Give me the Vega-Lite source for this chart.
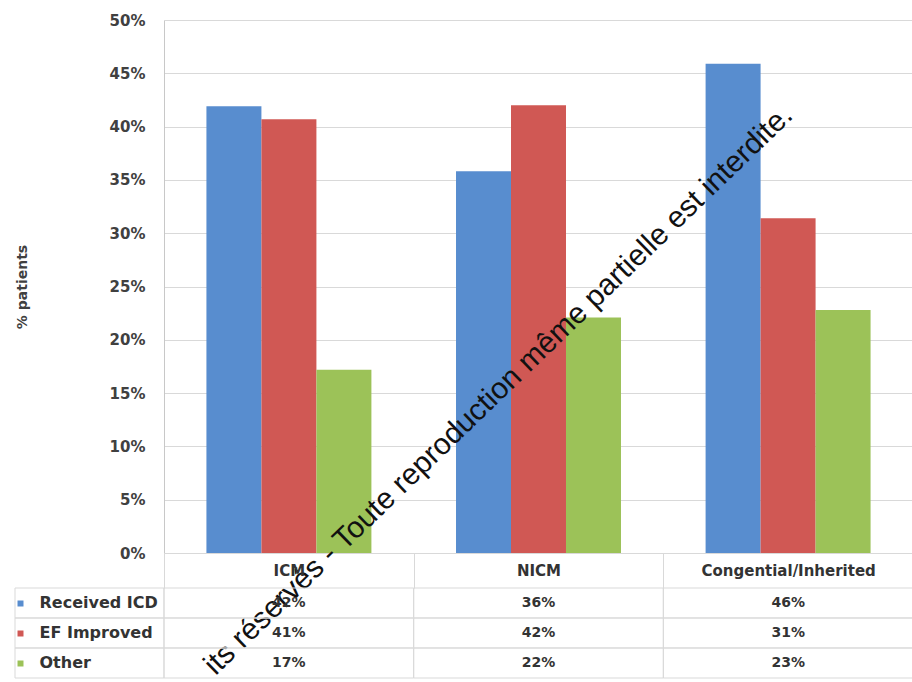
{
  "$schema": "https://vega.github.io/schema/vega-lite/v6.json",
  "background": "white",
  "padding": {"left": 14, "top": 13, "right": 0, "bottom": 0},
  "config": {
    "font": "DejaVu Sans",
    "view": {"stroke": null}
  },
  "datasets": {
    "bars": [
      {"category": "ICM", "series": "Received ICD", "value": 0.419},
      {"category": "ICM", "series": "EF Improved", "value": 0.407},
      {"category": "ICM", "series": "Other", "value": 0.172},
      {"category": "NICM", "series": "Received ICD", "value": 0.358},
      {"category": "NICM", "series": "EF Improved", "value": 0.420},
      {"category": "NICM", "series": "Other", "value": 0.221},
      {"category": "Congential/Inherited", "series": "Received ICD", "value": 0.459},
      {"category": "Congential/Inherited", "series": "EF Improved", "value": 0.314},
      {"category": "Congential/Inherited", "series": "Other", "value": 0.228}
    ],
    "rows": [
      {"series": "Received ICD"},
      {"series": "EF Improved"},
      {"series": "Other"}
    ],
    "wm": [
      {"category": "Congential/Inherited", "value": 0.415, "text": "its réservés - Toute reproduction même partielle est interdite."}
    ]
  },
  "columns": 2,
  "spacing": {"row": 35, "column": 0},
  "bounds": "flush",
  "concat": [
    {
      "width": 149,
      "height": 533,
      "data": {"name": "rows"},
      "mark": {"type": "text", "text": ""},
      "encoding": {}
    },
    {
      "width": 749,
      "height": 533,
      "layer": [
        {
          "data": {"name": "bars"},
          "mark": {"type": "bar"},
          "encoding": {
            "x": {
              "field": "category",
              "type": "nominal",
              "scale": {"domain": ["ICM", "NICM", "Congential/Inherited"], "paddingInner": 0.339, "paddingOuter": 0.17},
              "axis": null
            },
            "xOffset": {
              "field": "series",
              "type": "nominal",
              "scale": {"domain": ["Received ICD", "EF Improved", "Other"], "paddingInner": 0, "paddingOuter": 0}
            },
            "y": {
              "field": "value",
              "type": "quantitative",
              "scale": {"domain": [0, 0.5], "nice": false},
              "axis": {
                "values": [0, 0.05, 0.1, 0.15, 0.2, 0.25, 0.3, 0.35, 0.4, 0.45, 0.5],
                "format": ".0%",
                "labelFontSize": 15,
                "labelFontWeight": "bold",
                "labelColor": "#404040",
                "labelPadding": 19,
                "ticks": false,
                "domain": true,
                "domainColor": "#c8c8c8",
                "grid": true,
                "gridColor": "#d9d9d9",
                "title": "% patients",
                "titleFontSize": 14,
                "titleFontWeight": "bold",
                "titleColor": "#404040",
                "titlePadding": 80
              }
            },
            "color": {
              "field": "series",
              "type": "nominal",
              "scale": {"domain": ["Received ICD", "EF Improved", "Other"], "range": ["#588DCF", "#D05854", "#9CC258"]},
              "legend": null
            }
          }
        },
        {
          "data": {"name": "wm"},
          "mark": {"type": "text", "angle": -44, "align": "right", "baseline": "middle", "fontSize": 30, "font": "Liberation Sans", "color": "#111111"},
          "encoding": {
            "x": {"field": "category", "type": "nominal"},
            "y": {"field": "value", "type": "quantitative"},
            "text": {"field": "text"}
          }
        }
      ]
    },
    {
      "width": 149,
      "height": 90,
      "data": {"name": "rows"},
      "mark": {"type": "rect", "filled": false, "color": "#d9d9d9", "strokeWidth": 1},
      "encoding": {
        "y": {
          "field": "series",
          "type": "nominal",
          "scale": {"domain": ["Received ICD", "EF Improved", "Other"], "paddingInner": 0, "paddingOuter": 0},
          "axis": {
            "orient": "left",
            "title": null,
            "domain": false,
            "grid": false,
            "ticks": true,
            "tickSize": -6,
            "tickWidth": 6,
            "tickCap": "butt",
            "offset": -2,
            "tickColor": {
              "condition": [
                {"test": "datum.value === 'Received ICD'", "value": "#588DCF"},
                {"test": "datum.value === 'EF Improved'", "value": "#D05854"}
              ],
              "value": "#9CC258"
            },
            "labelAlign": "left",
            "labelPadding": -16,
            "labelFontSize": 16,
            "labelFontWeight": "bold",
            "labelColor": "#333333"
          }
        }
      }
    },
    {
      "width": 749,
      "height": 90,
      "data": {"name": "bars"},
      "layer": [
        {
          "mark": {"type": "rect", "filled": false, "color": "#d9d9d9", "strokeWidth": 1},
          "encoding": {
            "x": {
              "field": "category",
              "type": "nominal",
              "scale": {"domain": ["ICM", "NICM", "Congential/Inherited"], "paddingInner": 0, "paddingOuter": 0},
              "axis": {
                "orient": "top",
                "title": null,
                "domain": false,
                "ticks": true,
                "tickBand": "extent",
                "tickSize": 35,
                "tickColor": "#d9d9d9",
                "labelAngle": 0,
                "labelFontSize": 15,
                "labelFontWeight": "bold",
                "labelColor": "#333333",
                "labelBaseline": "middle",
                "labelPadding": -17,
                "grid": false
              }
            },
            "y": {"field": "series", "type": "nominal", "scale": {"domain": ["Received ICD", "EF Improved", "Other"], "paddingInner": 0, "paddingOuter": 0}, "axis": null}
          }
        },
        {
          "mark": {"type": "text", "fontSize": 14, "fontWeight": "bold", "color": "#333333"},
          "encoding": {
            "x": {"field": "category", "type": "nominal"},
            "y": {"field": "series", "type": "nominal"},
            "text": {"field": "value", "type": "quantitative", "format": ".0%"}
          }
        }
      ]
    }
  ]
}
